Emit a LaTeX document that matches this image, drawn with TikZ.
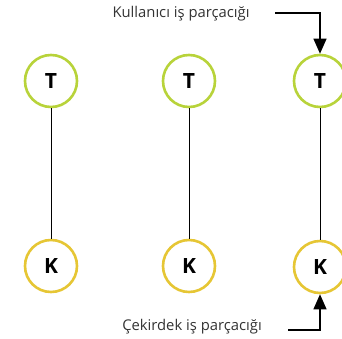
\documentclass[tikz,border=0pt]{standalone}
\usepackage{fontspec}
\setmainfont{Open Sans}
\usetikzlibrary{arrows.meta}
\definecolor{userring}{HTML}{B8D33A}
\definecolor{kernelring}{HTML}{E6C634}
\tikzset{
  thread/.style={circle, line width=2.6pt, fill=white, minimum size=52pt, inner sep=0pt,
                 font=\fontsize{21}{21}\selectfont\bfseries},
  uthread/.style={thread, draw=userring},
  kthread/.style={thread, draw=kernelring},
  link/.style={line width=0.9pt, black},
  callout/.style={line width=1.1pt, black, -{Triangle[width=13pt,length=15pt]}},
  caption/.style={font=\fontsize{14.8}{16}\selectfont, text=black!80, inner sep=0pt}
}
\begin{document}
\begin{tikzpicture}[x=1pt,y=-1pt]
  \useasboundingbox (0,0) rectangle (342,339);
  % user-level threads
  \node[uthread] (t1) at (51,81) {T};
  \node[uthread] (t2) at (189,81) {T};
  \node[uthread] (t3) at (320,81) {T};
  % kernel-level threads
  \node[kthread] (k1) at (51,266) {K};
  \node[kthread] (k2) at (189,266) {K};
  \node[kthread] (k3) at (320,267) {K};
  % one-to-one mapping
  \draw[link] (t1) -- (k1);
  \draw[link] (t2) -- (k2);
  \draw[link] (t3) -- (k3);
  % labels
  \node[caption] (ul) at (181,14) {Kullanıcı iş parçacığı};
  \node[caption] (kl) at (192,327) {Çekirdek iş parçacığı};
  \coordinate (ua) at (275,13);
  \coordinate (ka) at (288,330);
  \draw[callout] (ua) -| (t3.north);
  \draw[callout] (ka) -| (k3.south);
\end{tikzpicture}
\end{document}
